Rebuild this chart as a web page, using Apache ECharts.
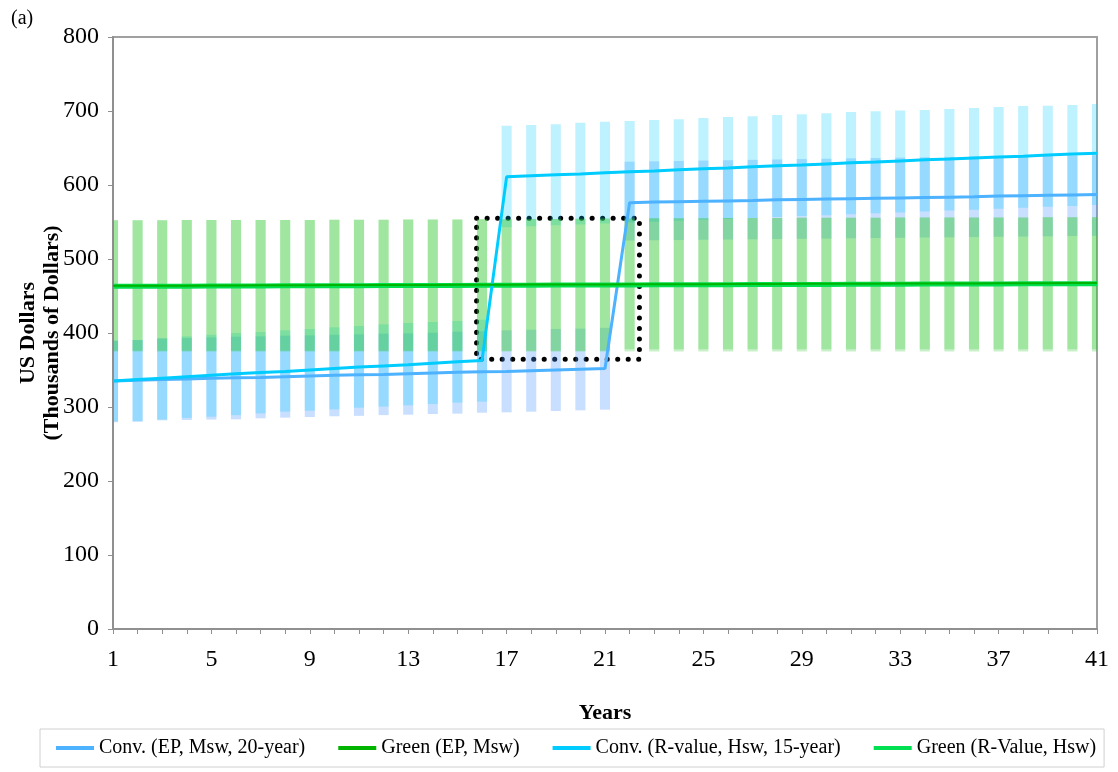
<!DOCTYPE html>
<html>
<head>
<meta charset="utf-8">
<script src="https://cdn.jsdelivr.net/npm/echarts@6/dist/echarts.min.js"></script>
<style>
html,body{margin:0;padding:0;background:#fff;}
#chart{width:1118px;height:772px;}
</style>
</head>
<body>
<div id="chart"></div>
<script>
// ---------- data ----------
var years = [1,2,3,4,5,6,7,8,9,10,11,12,13,14,15,16,17,18,19,20,21,22,23,24,25,26,27,28,29,30,31,32,33,34,35,36,37,38,39,40,41];
var xTickLabels = ['1','5','9','13','17','21','25','29','33','37','41'];

var seriesNames = ['Conv. (EP, Msw, 20-year)', 'Green (EP, Msw)', 'Conv. (R-value, Hsw, 15-year)', 'Green (R-Value, Hsw)'];

// central lines
var conv20Line = [335,336,337,338,339,339.5,340,341,342,343,343.5,344,345,346,347,347.5,348,349,350,351,352,
                  576,577,577.5,578,578.5,579,580,580.5,581,581.5,582,582.5,583,583.5,584,585,585.5,586,586.5,587];
var conv15Line = [335,337,339,341,343,345,346.5,348,350,352,354,355.5,357,359,361,363,
                  611,612.5,614,615,616.5,618,619,620.5,622,623,624.5,626,627,628.5,630,631,632.5,634,635,636.5,638,639,640.5,642,643];
var greenEPLine = [464,464,464,464,464.2,464.3,464.4,464.5,464.6,464.7,464.8,464.9,465,465,465.1,465.2,465.3,465.4,465.5,465.6,465.7,
                   465.8,465.9,466,466,466.1,466.2,466.3,466.4,466.5,466.6,466.7,466.8,466.9,467,467,467.1,467.2,467.3,467.4,467.5];
var greenRVLine = [463.2,463.2,463.3,463.3,463.4,463.5,463.6,463.7,463.8,463.9,464,464.1,464.2,464.2,464.3,464.4,464.5,464.6,464.7,464.8,464.9,
                   465,465.1,465.2,465.2,465.3,465.4,465.5,465.6,465.7,465.8,465.9,466,466.1,466.2,466.2,466.3,466.4,466.5,466.6,466.7];

// ranges (low / high)
var conv20Low = [279.5,280,282,282.4,283,283.3,284.7,285.6,286.5,287.5,288,289,289.6,290.5,291,292.3,292.8,293.7,294.6,295.5,296.4,
                 525,525.3,525.6,526,526.3,526.6,527,527.3,527.6,528,528.3,528.6,529,529.3,529.6,530,530.3,530.6,531,531.3];
var conv20High = [389.6,390.5,392.3,393.2,394.1,395,395.5,396.4,396.8,397.7,398.2,399.1,399.5,400.5,401.8,402.6,403.6,404.5,405.4,405.9,407,
                  631.5,632,632.5,633,633.5,634,634.5,635,635.5,636,636.5,637,637.5,638,638.5,639,639.3,639.6,640,640.3];
var conv15Low = [280.5,281,283,285.3,286.9,289,291.4,293.7,295,296.8,299,300.5,302.3,304,305.9,307.2,
                 543,544.2,545.5,546.7,548,549.2,550.5,551.7,553,554.2,555.5,556.7,558,559.2,560.5,561.7,563,564.2,565.5,566.7,568,569.2,570.5,571.7,573];
var conv15High = [389.6,390.5,393.2,395.5,397.7,400,401.4,403.6,405.4,407.7,409.5,411.7,413.5,414.9,416.2,418,
                  680.2,681,682,684,685.5,686.5,688,689,690.5,692,693,694.5,695.5,697,698.6,699.5,700.8,701.3,702.7,704,705.4,706.8,707.2,708,709.5];
var greenEPLow = [375,375,375,375,375,375,375,375,375,375,375,375,375,375,375,375,375,375,375,375,375,
                  375,375,375,375,375,375,375,375,375,375,375,375,375,375,375,375,375,375,375,375];
var greenEPHigh = [552.5,552.5,552.5,552.6,552.6,552.7,552.7,552.8,552.8,552.9,553,553.2,553.3,553.4,553.5,553.6,553.8,554,554.2,554.4,554.6,
                   554.8,555,555.1,555.2,555.3,555.4,555.5,555.6,555.7,555.8,555.9,556,556,556.1,556.1,556.2,556.2,556.3,556.3,556.4];
var greenRVLow = [376,376,376,376,376,376,376,376,376,376,376,376,376,376,376,376,376,376,376,376,376,
                  378,378,378,378,378,378,378,378,378,378,378,378,378,378,378,378,378,378,378,378];
var greenRVHigh = [552.5,552.5,552.5,552.6,552.6,552.7,552.7,552.8,552.8,552.9,553,553.2,553.3,553.4,553.5,553.6,553.8,554,554.2,554.4,554.6,
                   554.8,555,555.1,555.2,555.3,555.4,555.5,555.6,555.7,555.8,555.9,556,556,556.1,556.1,556.2,556.2,556.3,556.3,556.4];

// dotted annotation box [x from, y top] - [x to, y bottom]
var boxFrom = [15.78, 555];
var boxTo = [22.4, 364.5];

// ---------- build ----------
function pairs(ys){ return years.map(function(y,i){ return [y, ys[i]]; }); }
function ranges(lo, hi){ return years.map(function(y,i){ return [y, lo[i], hi[i]]; }); }

function renderRange(params, api){
  var x = api.value(0), lo = api.value(1), hi = api.value(2);
  var pTop = api.coord([x, hi]);
  var pBot = api.coord([x, lo]);
  var w = api.size([1, 0])[0] * 0.41;
  var cs = params.coordSys;
  var shape = echarts.graphic.clipRectByRect(
    {x: pTop[0] - w/2, y: pTop[1], width: w, height: pBot[1] - pTop[1]},
    {x: cs.x, y: cs.y, width: cs.width, height: cs.height});
  if (!shape) return;
  return {type: 'rect', shape: shape, style: {fill: api.visual('color')}};
}

var font = 'Liberation Serif';
var chart = echarts.init(document.getElementById('chart'), null, {renderer: 'canvas'});

function rangeSeries(name, lo, hi, color, z){
  return {type: 'custom', name: name, renderItem: renderRange, data: ranges(lo, hi),
          itemStyle: {color: color}, z: z, silent: true, clip: true,
          encode: {x: 0, y: [1, 2]}};
}
function lineSeries(name, ys, color, width, z){
  return {type: 'line', name: name, data: pairs(ys), showSymbol: false, symbol: 'none',
          lineStyle: {color: color, width: width}, itemStyle: {color: color}, z: z, animation: false};
}

var s15 = lineSeries(seriesNames[2], conv15Line, '#00ccff', 3, 10);
s15.markArea = {
  silent: true,
  label: {show: false},
  itemStyle: {color: 'rgba(0,0,0,0)', borderColor: '#000', borderWidth: 5, borderType: [0.1, 10.4], borderCap: 'round'},
  data: [[{xAxis: boxFrom[0], yAxis: boxFrom[1]}, {xAxis: boxTo[0], yAxis: boxTo[1]}]]
};

var option = {
  animation: false,
  backgroundColor: '#fff',
  title: {text: '(a)', left: 6, top: 4, textStyle: {fontFamily: font, fontSize: 20, fontWeight: 'normal', color: '#000'}},
  grid: {left: 113, right: 21, top: 37, bottom: 143, show: true, borderColor: '#a0a0a0', borderWidth: 2,
         containLabel: false, outerBoundsMode: 'none'},
  legend: {
    data: seriesNames,
    left: 40, bottom: 5,
    icon: 'rect', itemWidth: 38, itemHeight: 4, itemGap: 33,
    padding: [9, 8, 9, 16],
    borderColor: '#d0d0d0', borderWidth: 1,
    textStyle: {fontFamily: font, fontSize: 20, color: '#000'}
  },
  xAxis: {
    type: 'value', min: 1, max: 41, interval: 4,
    name: 'Years', nameLocation: 'middle', nameGap: 73, nameMoveOverlap: false,
    nameTextStyle: {fontFamily: font, fontSize: 22, fontWeight: 'bold', color: '#000'},
    axisLine: {show: true, lineStyle: {color: '#909090', width: 2}},
    axisTick: {show: true, length: 5, lineStyle: {color: '#909090'}},
    minorTick: {show: true, splitNumber: 4, length: 5, lineStyle: {color: '#909090'}},
    splitLine: {show: false},
    axisLabel: {fontFamily: font, fontSize: 24, color: '#000', margin: 19,
      formatter: function(v){ var s = String(v); return xTickLabels.indexOf(s) >= 0 ? s : ''; }}
  },
  yAxis: {
    type: 'value', min: 0, max: 800, interval: 100,
    name: 'US Dollars\n(Thousands of Dollars)', nameLocation: 'middle', nameGap: 49, nameRotate: 90, nameMoveOverlap: false,
    nameTextStyle: {fontFamily: font, fontSize: 22, fontWeight: 'bold', color: '#000', lineHeight: 24},
    axisLine: {show: true, lineStyle: {color: '#909090', width: 2}},
    axisTick: {show: true, length: 5, lineStyle: {color: '#909090'}},
    splitLine: {show: false},
    axisLabel: {fontFamily: font, fontSize: 24, color: '#000', margin: 14}
  },
  series: [
    rangeSeries('r-conv20', conv20Low, conv20High, 'rgba(77,150,255,0.30)', 1),
    rangeSeries('r-conv15', conv15Low, conv15High, 'rgba(0,204,255,0.25)', 2),
    rangeSeries('r-greenEP', greenEPLow, greenEPHigh, 'rgba(40,200,40,0.25)', 3),
    rangeSeries('r-greenRV', greenRVLow, greenRVHigh, 'rgba(40,200,40,0.25)', 4),
    lineSeries(seriesNames[0], conv20Line, '#4db2ff', 3, 10),
    lineSeries(seriesNames[3], greenRVLine, '#00e050', 5, 10),
    lineSeries(seriesNames[1], greenEPLine, '#00b400', 2, 11),
    s15
  ]
};
chart.setOption(option);
</script>
</body>
</html>
